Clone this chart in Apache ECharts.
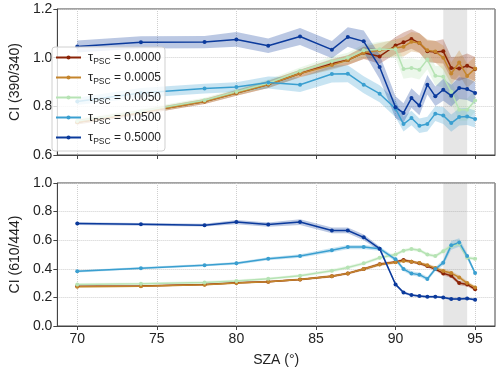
<!DOCTYPE html>
<html>
<head>
<meta charset="utf-8">
<script src="https://cdn.jsdelivr.net/npm/echarts@6/dist/echarts.min.js"></script>
<style>
  html, body { margin: 0; padding: 0; background: #fff; }
  #chart { width: 500px; height: 368px; }
</style>
</head>
<body>
<div id="chart"></div>
<script>
// SZA grid shared by both panels
var sza = [70, 74, 78, 80, 82, 84, 86, 87, 88, 89, 90, 90.5, 91, 91.5, 92, 92.5, 93, 93.5, 94, 94.5, 95];
var tauNames = ['0.0000', '0.0005', '0.0050', '0.0500', '0.5000'];
var xTicks = [70, 75, 80, 85, 90, 95];

// CI (390/340)
var ci390_t0 = [0.735, 0.775, 0.82, 0.855, 0.89, 0.935, 0.975, 0.99, 1.02, 1.005, 1.05, 1.063, 1.077, 1.06, 1.026, 1.023, 1.026, 0.958, 0.955, 0.967, 0.953];
var ci390_t1 = [0.735, 0.775, 0.82, 0.855, 0.89, 0.935, 0.97, 0.99, 1.02, 1.03, 1.04, 1.045, 1.065, 1.06, 1.03, 1.025, 1.0, 0.935, 0.98, 0.925, 0.955];
var ci390_t2 = [0.74, 0.78, 0.825, 0.86, 0.895, 0.945, 0.985, 1.0, 1.03, 1.035, 1.035, 0.953, 0.958, 0.95, 0.992, 0.926, 0.922, 0.86, 0.786, 0.786, 0.824];
var ci390_t3 = [0.82, 0.855, 0.873, 0.879, 0.898, 0.889, 0.933, 0.934, 0.889, 0.852, 0.79, 0.727, 0.752, 0.72, 0.727, 0.77, 0.762, 0.731, 0.756, 0.758, 0.748];
var ci390_t4 = [1.046, 1.063, 1.064, 1.075, 1.049, 1.087, 1.033, 1.085, 1.067, 0.962, 0.796, 0.773, 0.834, 0.803, 0.889, 0.841, 0.868, 0.844, 0.875, 0.871, 0.855];
// spread (half width) of the shaded bands
var err390_t0 = [0.01, 0.01, 0.01, 0.012, 0.015, 0.015, 0.02, 0.02, 0.025, 0.03, 0.035, 0.04, 0.04, 0.04, 0.045, 0.045, 0.05, 0.045, 0.05, 0.05, 0.05];
var err390_t1 = [0.01, 0.01, 0.01, 0.012, 0.015, 0.015, 0.02, 0.02, 0.025, 0.03, 0.035, 0.04, 0.04, 0.04, 0.045, 0.045, 0.05, 0.045, 0.05, 0.05, 0.05];
var err390_t2 = [0.01, 0.01, 0.01, 0.012, 0.015, 0.015, 0.02, 0.02, 0.025, 0.03, 0.035, 0.04, 0.04, 0.04, 0.04, 0.04, 0.045, 0.045, 0.045, 0.045, 0.045];
var err390_t3 = [0.015, 0.02, 0.02, 0.02, 0.025, 0.03, 0.035, 0.035, 0.035, 0.035, 0.035, 0.03, 0.03, 0.03, 0.03, 0.03, 0.035, 0.035, 0.035, 0.035, 0.035];
var err390_t4 = [0.025, 0.025, 0.025, 0.03, 0.03, 0.035, 0.035, 0.04, 0.045, 0.05, 0.045, 0.04, 0.04, 0.04, 0.04, 0.04, 0.045, 0.045, 0.045, 0.045, 0.045];

// CI (610/444)
var ci610_t0 = [0.278, 0.28, 0.29, 0.303, 0.31, 0.325, 0.348, 0.368, 0.398, 0.432, 0.448, 0.461, 0.45, 0.438, 0.42, 0.398, 0.368, 0.352, 0.3, 0.291, 0.257];
var ci610_t1 = [0.275, 0.278, 0.288, 0.3, 0.31, 0.325, 0.348, 0.368, 0.398, 0.43, 0.445, 0.455, 0.45, 0.44, 0.425, 0.405, 0.385, 0.37, 0.34, 0.3, 0.27];
var ci610_t2 = [0.29, 0.295, 0.305, 0.315, 0.33, 0.352, 0.386, 0.409, 0.438, 0.477, 0.5, 0.527, 0.539, 0.53, 0.5, 0.489, 0.523, 0.56, 0.575, 0.477, 0.47];
var ci610_t3 = [0.382, 0.404, 0.425, 0.438, 0.47, 0.489, 0.53, 0.552, 0.552, 0.541, 0.466, 0.398, 0.368, 0.359, 0.329, 0.398, 0.443, 0.564, 0.584, 0.489, 0.37];
var ci610_t4 = [0.716, 0.711, 0.705, 0.727, 0.709, 0.727, 0.668, 0.668, 0.62, 0.541, 0.291, 0.234, 0.216, 0.209, 0.205, 0.205, 0.2, 0.189, 0.189, 0.193, 0.184];
var err610_t0 = [0.005, 0.005, 0.005, 0.006, 0.006, 0.007, 0.008, 0.008, 0.01, 0.01, 0.01, 0.01, 0.01, 0.01, 0.012, 0.012, 0.015, 0.015, 0.015, 0.015, 0.012];
var err610_t1 = [0.005, 0.005, 0.005, 0.006, 0.006, 0.007, 0.008, 0.008, 0.01, 0.01, 0.01, 0.01, 0.01, 0.01, 0.012, 0.012, 0.015, 0.015, 0.015, 0.015, 0.012];
var err610_t2 = [0.01, 0.01, 0.01, 0.01, 0.01, 0.01, 0.012, 0.012, 0.012, 0.012, 0.012, 0.012, 0.012, 0.012, 0.012, 0.012, 0.015, 0.015, 0.015, 0.012, 0.012];
var err610_t3 = [0.008, 0.008, 0.008, 0.01, 0.01, 0.012, 0.015, 0.015, 0.015, 0.015, 0.015, 0.015, 0.015, 0.015, 0.015, 0.015, 0.02, 0.03, 0.03, 0.02, 0.015];
var err610_t4 = [0.01, 0.01, 0.01, 0.015, 0.015, 0.02, 0.02, 0.02, 0.02, 0.015, 0.01, 0.01, 0.008, 0.008, 0.008, 0.008, 0.008, 0.008, 0.008, 0.008, 0.008];

var shadeFrom = 93, shadeTo = 94.5;

var colors = ['#8b2306', '#c4852c', '#b6e3b4', '#3a9fd0', '#0b3a9c'];
var upperVals = [ci390_t0, ci390_t1, ci390_t2, ci390_t3, ci390_t4];
var upperErr = [err390_t0, err390_t1, err390_t2, err390_t3, err390_t4];
var lowerVals = [ci610_t0, ci610_t1, ci610_t2, ci610_t3, ci610_t4];
var lowerErr = [err610_t0, err610_t1, err610_t2, err610_t3, err610_t4];

function hexA(hex, a) {
    var n = parseInt(hex.slice(1), 16);
    return 'rgba(' + (n >> 16) + ',' + ((n >> 8) & 255) + ',' + (n & 255) + ',' + a + ')';
}

// shaded band between lower and upper curves
function bandSeries(vals, errs, color, gi, withShade) {
    var data = sza.map(function (x, i) { return [x, vals[i] - errs[i], vals[i] + errs[i]]; });
    var s = {
        type: 'custom',
        xAxisIndex: gi, yAxisIndex: gi,
        silent: true,
        z: 1,
        encode: {x: 0, y: [1, 2]},
        data: data,
        renderItem: function (params, api) {
            if (params.dataIndex !== 0) return;
            var pts = [];
            data.forEach(function (d) { pts.push(api.coord([d[0], d[2]])); });
            for (var i = data.length - 1; i >= 0; i--) pts.push(api.coord([data[i][0], data[i][1]]));
            return {type: 'polygon', shape: {points: pts}, style: {fill: hexA(color, 0.28)}};
        }
    };
    if (withShade) {
        s.markArea = {
            silent: true,
            itemStyle: {color: 'rgba(128,128,128,0.2)'},
            data: [[{xAxis: shadeFrom}, {xAxis: shadeTo}]]
        };
    }
    return s;
}

function lineSeries(name, vals, color, gi) {
    return {
        name: name,
        type: 'line',
        xAxisIndex: gi, yAxisIndex: gi,
        z: 3,
        symbol: 'circle',
        symbolSize: 4,
        lineStyle: {width: 1.5, color: color},
        itemStyle: {color: color},
        data: sza.map(function (x, i) { return [x, vals[i]]; })
    };
}

var series = [];
[0, 1].forEach(function (gi) {
    var v = gi === 0 ? upperVals : lowerVals;
    var e = gi === 0 ? upperErr : lowerErr;
    for (var k = 0; k < 5; k++) series.push(bandSeries(v[k], e[k], colors[k], gi, k === 0));
    for (var k = 0; k < 5; k++) series.push(lineSeries(tauNames[k], v[k], colors[k], gi));
});

var font = 'Liberation Sans';
var axisColor = '#444';

function xAxis(gi, labels) {
    return {
        type: 'value', gridIndex: gi, min: 68.75, max: 96.25,
        name: labels ? 'SZA (°)' : '', nameLocation: 'middle', nameGap: 27,
        nameTextStyle: {fontFamily: font, fontSize: 14, color: '#222'},
        axisLine: {show: true, onZero: false, lineStyle: {color: axisColor}},
        axisTick: {show: true, length: 4, customValues: xTicks, lineStyle: {color: axisColor}},
        axisLabel: {show: labels, customValues: xTicks, margin: 6, fontFamily: font, fontSize: 14, color: '#222'},
        splitLine: {show: true, lineStyle: {type: 'dotted', color: '#cfcfcf'}}
    };
}

function yAxis(gi, name, min, max) {
    return {
        type: 'value', gridIndex: gi, min: min, max: max, interval: 0.2,
        name: name, nameLocation: 'middle', nameGap: 28,
        nameTextStyle: {fontFamily: font, fontSize: 14, color: '#222'},
        axisLine: {show: true, lineStyle: {color: axisColor}},
        axisTick: {show: true, length: 4, lineStyle: {color: axisColor}},
        axisLabel: {margin: 5, fontFamily: font, fontSize: 14, color: '#222',
            formatter: function (v) { return v.toFixed(1); }},
        splitLine: {show: true, lineStyle: {type: 'dotted', color: '#cfcfcf'}}
    };
}

var chart = echarts.init(document.getElementById('chart'));
chart.setOption({
    animation: false,
    backgroundColor: '#fff',
    grid: [
        {left: 46, right: 5, top: 9, height: 146, show: true, borderColor: axisColor, borderWidth: 1},
        {left: 46, right: 5, top: 183, height: 147, show: true, borderColor: axisColor, borderWidth: 1}
    ],
    xAxis: [xAxis(0, false), xAxis(1, true)],
    yAxis: [yAxis(0, 'CI (390/340)', 0.6, 1.2), yAxis(1, 'CI (610/444)', 0, 1)],
    legend: {
        data: tauNames,
        orient: 'vertical',
        left: 52, top: 47,
        itemWidth: 25, itemHeight: 5, itemGap: 5,
        padding: [4, 4, 5, 3],
        backgroundColor: 'rgba(255,255,255,0.8)',
        borderColor: '#d0d0d0', borderWidth: 1, borderRadius: 3,
        formatter: function (name) { return '{tau|τ}{s|PSC}{t| = ' + name + '}'; },
        textStyle: {
            fontFamily: font, fontSize: 12, color: '#222',
            rich: {
                tau: {fontFamily: font, fontSize: 13, color: '#222', padding: [0, 0, 0, 2]},
                t: {fontFamily: font, fontSize: 12, color: '#222'},
                s: {fontFamily: font, fontSize: 8.5, color: '#222', padding: [8, 0, 0, 0]}
            }
        }
    },
    series: series
});
</script>
</body>
</html>
